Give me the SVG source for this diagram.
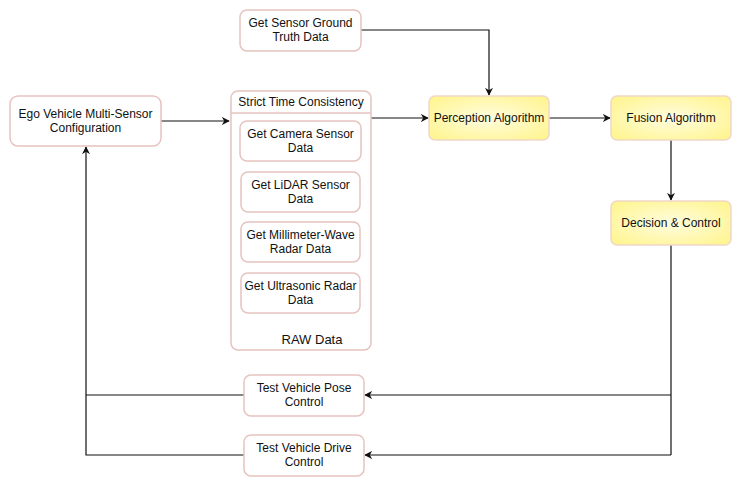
<svg xmlns="http://www.w3.org/2000/svg" width="749" height="484" viewBox="0 0 749 484">
<defs>
<style>
.box{fill:#ffffff;stroke:#e6c3bf;stroke-width:1.5}
.alg{fill:url(#yel);stroke:#f0d8c8;stroke-width:1.5}
text{font-family:"Liberation Sans",Arial,sans-serif;font-size:12px;fill:#111;text-anchor:middle}
.ln{fill:none;stroke:#111;stroke-width:1.2}
</style>
<radialGradient id="yel" cx="0.5" cy="0.5" r="0.7">
<stop offset="0" stop-color="#fffde0"/>
<stop offset="1" stop-color="#fff48a"/>
</radialGradient>
<marker id="ah" viewBox="0 0 10 10" refX="9" refY="5" markerWidth="8" markerHeight="8" markerUnits="userSpaceOnUse" orient="auto">
<path d="M0,0 L10,5 L0,10 L3,5 Z" fill="#111"/>
</marker>
</defs>
<rect width="749" height="484" fill="#ffffff"/>
<g id="connectors">
<path class="ln" d="M361,30 H489 V95" marker-end="url(#ah)"/>
<path class="ln" d="M161,121 H229" marker-end="url(#ah)"/>
<path class="ln" d="M371,118 H428" marker-end="url(#ah)"/>
<path class="ln" d="M549,118 H610" marker-end="url(#ah)"/>
<path class="ln" d="M671,140 V200" marker-end="url(#ah)"/>
<path class="ln" d="M671,245 V455"/>
<path class="ln" d="M671,395 H365" marker-end="url(#ah)"/>
<path class="ln" d="M671,455 H365" marker-end="url(#ah)"/>
<path class="ln" d="M244,395 H86"/>
<path class="ln" d="M244,455 H86 V147" marker-end="url(#ah)"/>
</g>
<g id="ground-truth">
<rect class="box" x="240" y="10" width="121" height="41" rx="7"/>
<text x="300.5" y="27">Get Sensor Ground</text>
<text x="300.5" y="41">Truth Data</text>
</g>
<g id="ego">
<rect class="box" x="10" y="96" width="151" height="50" rx="8"/>
<text x="85.5" y="118">Ego Vehicle Multi-Sensor</text>
<text x="85.5" y="132">Configuration</text>
</g>
<g id="raw-data">
<rect class="box" x="231" y="91" width="140" height="259" rx="7"/>
<line x1="231" y1="113" x2="371" y2="113" stroke="#e6c3bf" stroke-width="1.5"/>
<text x="301" y="106">Strict Time Consistency</text>
<text x="312" y="344" style="font-size:13px">RAW Data</text>
</g>
<g id="camera">
<rect class="box" x="240" y="121" width="121" height="40" rx="7"/>
<text x="300.5" y="138">Get Camera Sensor</text>
<text x="300.5" y="152">Data</text>
</g>
<g id="lidar">
<rect class="box" x="241" y="172" width="119" height="40" rx="7"/>
<text x="300.5" y="189">Get LiDAR Sensor</text>
<text x="300.5" y="203">Data</text>
</g>
<g id="mmwave">
<rect class="box" x="241" y="222" width="119" height="40" rx="7"/>
<text x="300.5" y="239">Get Millimeter-Wave</text>
<text x="300.5" y="253">Radar Data</text>
</g>
<g id="ultrasonic">
<rect class="box" x="241" y="273" width="119" height="40" rx="7"/>
<text x="300.5" y="290">Get Ultrasonic Radar</text>
<text x="300.5" y="304">Data</text>
</g>
<g id="perception">
<rect class="alg" x="429" y="96" width="120" height="44" rx="6"/>
<text x="489" y="122">Perception Algorithm</text>
</g>
<g id="fusion">
<rect class="alg" x="611" y="96" width="120" height="44" rx="6"/>
<text x="671" y="122">Fusion Algorithm</text>
</g>
<g id="decision">
<rect class="alg" x="611" y="201" width="120" height="44" rx="6"/>
<text x="671" y="227">Decision &amp; Control</text>
</g>
<g id="pose">
<rect class="box" x="244" y="375" width="120" height="41" rx="7"/>
<text x="304" y="392">Test Vehicle Pose</text>
<text x="304" y="406">Control</text>
</g>
<g id="drive">
<rect class="box" x="244" y="435" width="120" height="41" rx="7"/>
<text x="304" y="452">Test Vehicle Drive</text>
<text x="304" y="466">Control</text>
</g>
</svg>
